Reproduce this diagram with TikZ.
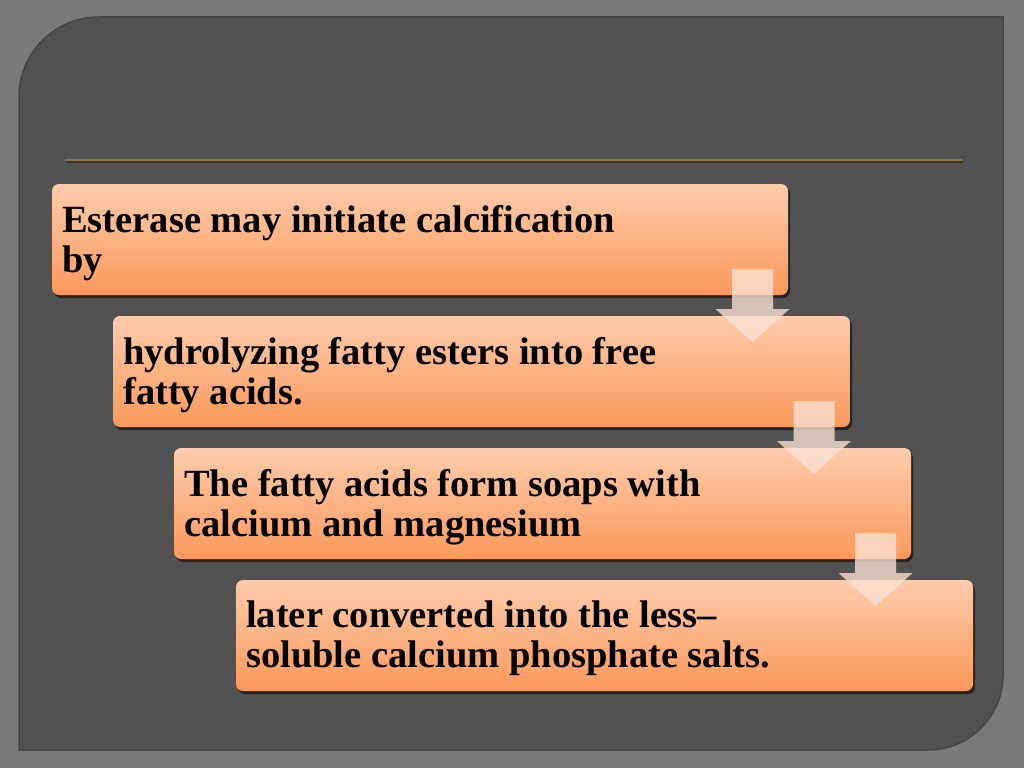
\documentclass[tikz,border=0pt]{standalone}
\usepackage{fontspec}
\setmainfont{Liberation Serif}
\usetikzlibrary{shadows,calc}
\definecolor{bgout}{RGB}{122,122,122}
\definecolor{panel}{RGB}{82,82,82}
\definecolor{panedge}{RGB}{70,70,70}
\definecolor{rule}{RGB}{150,118,72}
\definecolor{boxtop}{RGB}{253,204,172}
\definecolor{boxbot}{RGB}{251,152,90}
\definecolor{arrowc}{RGB}{250,226,212}
\tikzset{
  stepbox/.style={rounded corners=7pt, top color=boxtop, bottom color=boxbot, draw=none,
    drop shadow={shadow xshift=2pt, shadow yshift=-3pt, opacity=0.55, fill=black}},
  steptext/.style={anchor=north west, inner sep=0pt, align=left, font=\fontsize{38.5}{40}\selectfont\bfseries, text=black},
  flowarrow/.style={fill=arrowc, fill opacity=0.78, draw=none}
}
\newcommand{\downarr}[1]{%
  \fill[flowarrow] ($(#1)+(-20.5,0)$) -- ($(#1)+(20.5,0)$) -- ($(#1)+(20.5,40)$) -- ($(#1)+(37,40)$)
    -- ($(#1)+(0,73)$) -- ($(#1)+(-37,40)$) -- ($(#1)+(-20.5,40)$) -- cycle;}
\begin{document}
\begin{tikzpicture}[x=1pt,y=-1pt]
\useasboundingbox (0,0) rectangle (1024,768);
\fill[bgout] (0,0) rectangle (1024,768);
% panel
\fill[panel, draw=panedge, line width=1.5pt] (19,97) arc[start angle=180, end angle=270, radius=80] -- (1003,17) -- (1003,675)
   arc[start angle=0, end angle=90, radius=75] -- (19,750) -- cycle;
% rule
\draw[black, opacity=0.35, line width=2pt] (66,162) -- (963,162);
\draw[rule, line width=2pt] (65,160) -- (962,160);
% boxes
\path[stepbox] (52,184) rectangle (788,295);
\coordinate (b1nw) at (52,184); \coordinate (b1se) at (788,295);
\path[stepbox] (113,316) rectangle (850,427);
\coordinate (b2nw) at (113,316); \coordinate (b2se) at (850,427);
\path[stepbox] (174,448) rectangle (911,559);
\coordinate (b3nw) at (174,448); \coordinate (b3se) at (911,559);
\path[stepbox] (236,580) rectangle (973,691);
\coordinate (b4nw) at (236,580); \coordinate (b4se) at (973,691);
\node[steptext] (t1) at ($(b1nw)+(10,21)$) {Esterase may initiate calcification\\by};
\node[steptext] (t2) at ($(b2nw)+(10,21)$) {hydrolyzing fatty esters into free\\fatty acids.};
\node[steptext] (t3) at ($(b3nw)+(10,21)$) {The fatty acids form soaps with\\calcium and magnesium};
\node[steptext] (t4) at ($(b4nw)+(10,21)$) {later converted into the less--\\soluble calcium phosphate salts.};
% arrows
\coordinate (a1) at ($(b1se)+(-35.5,-26)$);
\coordinate (a2) at ($(b2se)+(-36,-26)$);
\coordinate (a3) at ($(b3se)+(-35.5,-26)$);
\downarr{a1}
\downarr{a2}
\downarr{a3}
\end{tikzpicture}
\end{document}
